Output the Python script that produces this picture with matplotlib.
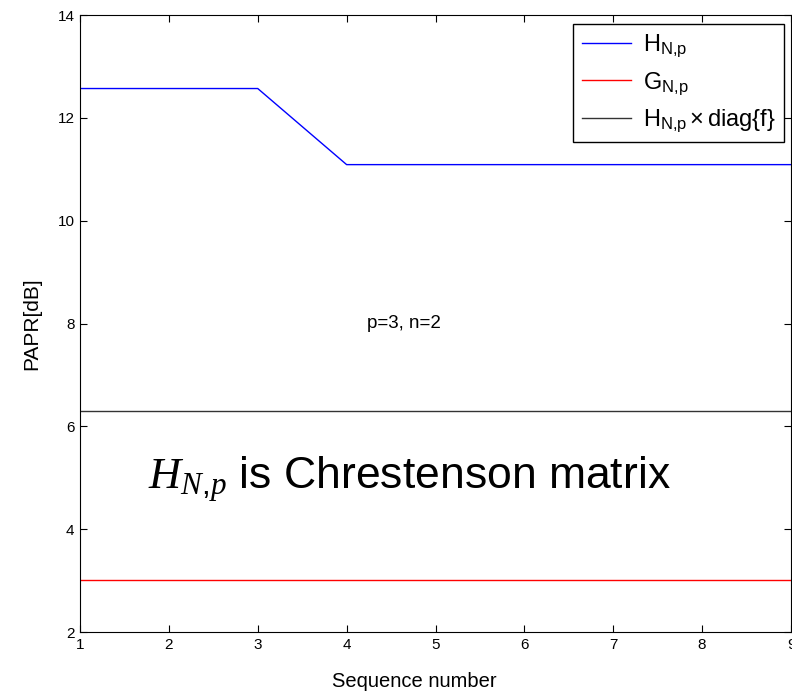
import matplotlib.pyplot as plt
import numpy as np

plt.rcParams['font.family'] = ['Liberation Sans', 'DejaVu Sans']
plt.rcParams['mathtext.fontset'] = 'custom'
plt.rcParams['mathtext.rm'] = 'Liberation Sans'
plt.rcParams['mathtext.it'] = 'Liberation Serif:italic'

# PAPR values per sequence number
seq = np.arange(1, 10)
papr_H = [12.57, 12.57, 12.57, 11.09, 11.09, 11.09, 11.09, 11.09, 11.09]
papr_G = [3.01, 3.01, 3.01, 3.01, 3.01, 3.01, 3.01, 3.01, 3.01]
papr_Hf = [6.30, 6.30, 6.30, 6.30, 6.30, 6.30, 6.30, 6.30, 6.30]

labels = [r'$\mathrm{H}_{\mathrm{N{,}p}}$',
          r'$\mathrm{G}_{\mathrm{N{,}p}}$',
          r'$\mathrm{H}_{\mathrm{N{,}p}} \times \mathrm{diag\{f\}}$']

fig = plt.figure(figsize=(7.92, 6.99), dpi=100)
ax = fig.add_axes([80 / 792, 1 - 632 / 699, 711 / 792, 617 / 699])

ax.plot(seq, papr_H, color='blue', lw=1, label=labels[0])
ax.plot(seq, papr_G, color='red', lw=1, label=labels[1])
ax.plot(seq, papr_Hf, color='#333333', lw=1, label=labels[2])

ax.set_xlim(1, 9)
ax.set_ylim(2, 14)
ax.set_xticks(range(1, 10))
ax.set_yticks(range(2, 15, 2))
ax.tick_params(direction='in', top=True, right=True, length=5, labelsize=11, pad=4)

ax.set_xlabel('Sequence number', fontsize=14.5)
ax.xaxis.set_label_coords((414 - 80) / 711, -0.065)
ax.set_ylabel('PAPR[dB]', fontsize=15, labelpad=12)

ax.text(4.65, 8, 'p=3, n=2', fontsize=13.5, ha='center', va='center')
ax.text(1.77, 4.97, r'$\mathit{H}_{\mathit{N{,}p}}$ is Chrestenson matrix',
        fontsize=32, ha='left', va='center')

leg = ax.legend(loc='upper right', bbox_to_anchor=(0.990, 0.985), borderaxespad=0,
                fontsize=17, fancybox=False, framealpha=1, handlelength=2.1,
                handletextpad=0.5, labelspacing=0.45, borderpad=0.35)
leg.get_frame().set_edgecolor('black')

fig.savefig('out.png', dpi=100)
